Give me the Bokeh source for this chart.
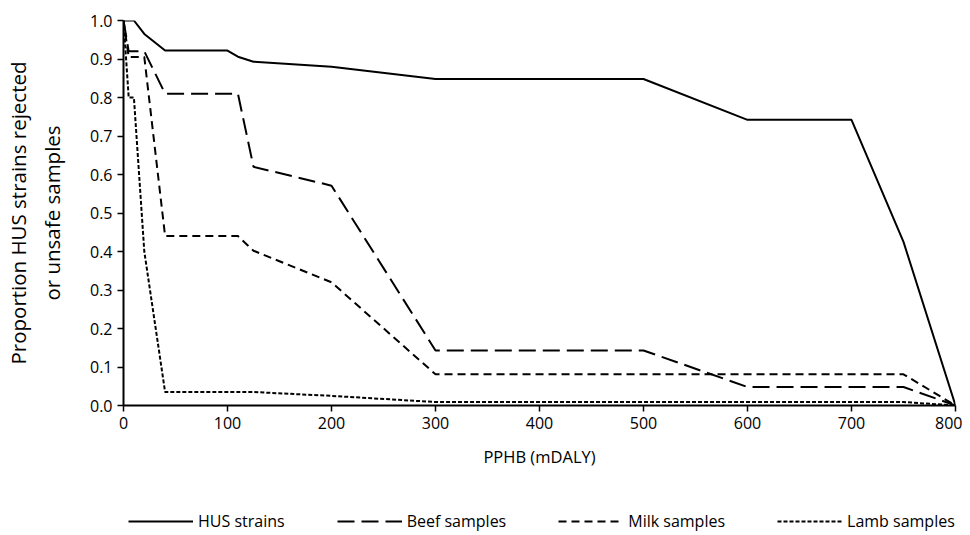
from bokeh.plotting import figure
from bokeh.layouts import column
from bokeh.models import Legend, LegendItem, Range1d, FixedTicker, NumeralTickFormatter
from bokeh.embed import file_html
from bokeh.resources import INLINE

hus_x = [0, 10, 20, 40, 100, 110, 125, 200, 300, 500, 600, 700, 750, 800]
hus_y = [1.0, 1.0, 0.965, 0.922, 0.922, 0.906, 0.893, 0.88, 0.848, 0.848, 0.742, 0.742, 0.425, 0.0]

beef_x = [0, 5, 20, 40, 110, 125, 200, 300, 500, 600, 750, 800]
beef_y = [1.0, 0.92, 0.92, 0.81, 0.81, 0.62, 0.571, 0.143, 0.143, 0.048, 0.048, 0.0]

milk_x = [0, 5, 20, 40, 110, 125, 200, 300, 750, 800]
milk_y = [1.0, 0.905, 0.905, 0.44, 0.44, 0.402, 0.32, 0.081, 0.081, 0.0]

lamb_x = [0, 5, 10, 20, 40, 125, 200, 300, 750, 800]
lamb_y = [1.0, 0.8, 0.8, 0.4, 0.035, 0.035, 0.025, 0.009, 0.009, 0.0]

series_names = ["HUS strains", "Beef samples", "Milk samples", "Lamb samples"]
x_ticks = [0, 100, 200, 300, 400, 500, 600, 700, 800]
y_ticks = [0.0, 0.1, 0.2, 0.3, 0.4, 0.5, 0.6, 0.7, 0.8, 0.9, 1.0]

FONT = "Open Sans"
DASHES = ["solid", "17 7", "8 5", "4 2"]
SERIES = [(hus_x, hus_y), (beef_x, beef_y), (milk_x, milk_y), (lamb_x, lamb_y)]

p = figure(width=962, height=482, output_backend="svg", toolbar_location=None,
           x_range=Range1d(0, 800), y_range=Range1d(0, 1.0),
           min_border_left=123, min_border_right=7, min_border_top=20,
           min_border_bottom=77)
p.xgrid.visible = False
p.ygrid.visible = False
p.outline_line_color = None

for (xs, ys), dash in zip(SERIES, DASHES):
    p.line(xs, ys, line_color="black", line_width=2, line_dash=dash)

for ax in (p.xaxis[0], p.yaxis[0]):
    ax.axis_line_color = "black"
    ax.axis_line_width = 2
    ax.major_tick_line_color = "black"
    ax.major_tick_line_width = 1.5
    ax.major_tick_in = 0
    ax.major_tick_out = 6
    ax.minor_tick_line_color = None
    ax.major_label_text_font = FONT
    ax.major_label_text_font_size = "16px"
    ax.major_label_text_color = "black"
    ax.axis_label_text_font = FONT
    ax.axis_label_text_font_style = "normal"
    ax.axis_label_text_color = "black"

p.xaxis.axis_label_text_font_size = "16.5px"
p.yaxis.axis_label_text_font_size = "20.5px"
p.xaxis.ticker = FixedTicker(ticks=x_ticks)
p.yaxis.ticker = FixedTicker(ticks=y_ticks)
p.yaxis.formatter = NumeralTickFormatter(format="0.0")
p.xaxis.axis_label = "PPHB (mDALY)"
p.yaxis.axis_label = "Proportion HUS strains rejected\nor unsafe samples"
p.xaxis.axis_label_standoff = 13
p.yaxis.axis_label_standoff = 21

# legend strip below the chart (same series, drawn outside its visible range)
lg = figure(width=962, height=50, output_backend="svg", toolbar_location=None,
            x_axis_type=None, y_axis_type=None, min_border=0,
            x_range=Range1d(-3000, -2000), y_range=Range1d(-3, -2))
lg.xgrid.visible = False
lg.ygrid.visible = False
lg.outline_line_color = None
items = []
for name, (xs, ys), dash in zip(series_names, SERIES, DASHES):
    r = lg.line(xs, ys, line_color="black", line_width=2, line_dash=dash)
    items.append(LegendItem(label=name, renderers=[r]))

legend = Legend(items=items, orientation="horizontal", location=(5, 0),
    glyph_width=65, glyph_height=16, label_standoff=5, spacing=52,
    label_text_font=FONT, label_text_font_size="16px",
    border_line_color=None, background_fill_alpha=0, margin=0, padding=0)
legend.label_text_color = "black"
lg.add_layout(legend, "center")

layout = column(p, lg, spacing=0)
open("out.html", "w").write(file_html(layout, INLINE))
